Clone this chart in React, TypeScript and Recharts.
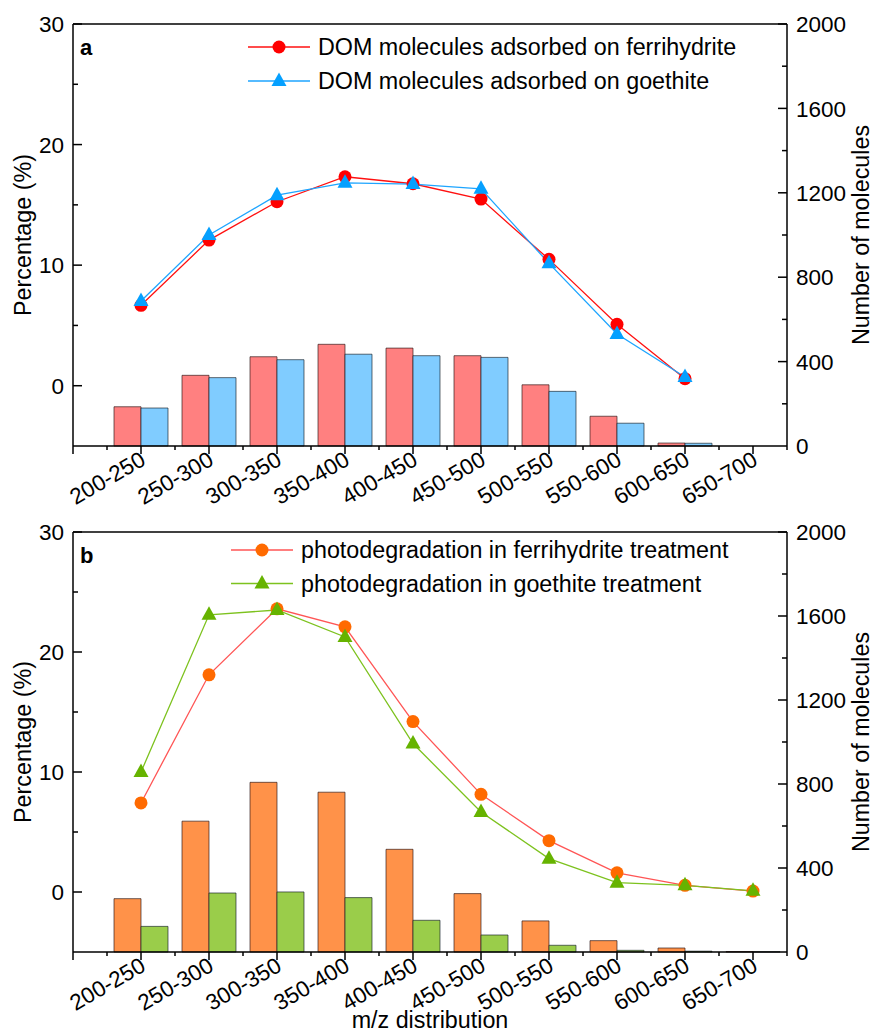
import React from "react";
import {
  ComposedChart,
  Bar,
  Line,
  XAxis,
  YAxis,
  ReferenceLine,
  Customized,
} from "recharts";

const FONT = "Arial, 'Liberation Sans', Helvetica, sans-serif";
const TICK_FS = 22.5;
const TEXT_FS = 23.3;

// m/z bins, plotted at positions 1..10 on a numeric axis (0 .. 10.5)
const categories = [
  "200-250",
  "250-300",
  "300-350",
  "350-400",
  "400-450",
  "450-500",
  "500-550",
  "550-600",
  "600-650",
  "650-700",
];
const categoryPositions = [1, 2, 3, 4, 5, 6, 7, 8, 9, 10];

// panel a: adsorbed DOM
const adsFerriPct = [6.67, 12.08, 15.26, 17.33, 16.75, 15.48, 10.48, 5.09, 0.58, null];
const adsGoethPct = [7.02, 12.5, 15.8, 16.83, 16.72, 16.33, 10.15, 4.29, 0.72, null];
const adsFerriCount = [186, 335, 423, 482, 464, 428, 290, 141, 14, 0];
const adsGoethCount = [180, 324, 409, 435, 428, 420, 259, 108, 13, 0];

// panel b: photodegradation
const photoFerriPct = [7.42, 18.1, 23.6, 22.1, 14.2, 8.14, 4.28, 1.6, 0.56, 0.08];
const photoGoethPct = [10.0, 23.1, 23.5, 21.25, 12.37, 6.67, 2.78, 0.78, 0.56, 0.1];
const photoFerriCount = [254, 623, 808, 761, 489, 278, 148, 54, 19, 2];
const photoGoethCount = [122, 281, 286, 259, 151, 81, 32, 8, 4, 1];

const xTicks = [0, 0.5, 1, 1.5, 2, 2.5, 3, 3.5, 4, 4.5, 5, 5.5, 6, 6.5, 7, 7.5, 8, 8.5, 9, 9.5, 10, 10.5];
const pctTicks = [-5, 0, 5, 10, 15, 20, 25, 30];
const pctMajor = [0, 10, 20, 30];
const countTicks = [0, 200, 400, 600, 800, 1000, 1200, 1400, 1600, 1800, 2000];
const countMajor = [0, 400, 800, 1200, 1600, 2000];

type Row = { x: number; p1: number | null; p2: number | null; n1: number; n2: number };

function buildRows(p1: (number | null)[], p2: (number | null)[], n1: number[], n2: number[]): Row[] {
  return categoryPositions.map((x, i) => ({ x, p1: p1[i], p2: p2[i], n1: n1[i], n2: n2[i] }));
}

const AX = "#000";

function XTick(props: any) {
  const { x, y, payload } = props;
  const v = payload.value;
  const major = Number.isInteger(v);
  const idx = categoryPositions.indexOf(v);
  const tx = x + 6;
  const ty = y + 18;
  return (
    <g>
      <line x1={x} x2={x} y1={y} y2={y + (major ? 8 : 4)} stroke={AX} strokeWidth={1.5} />
      {idx >= 0 && (
        <text
          x={tx}
          y={ty}
          textAnchor="end"
          transform={`rotate(-30 ${tx} ${ty})`}
          fontSize={TICK_FS}
          fontFamily={FONT}
          fill="#000"
        >
          {categories[idx]}
        </text>
      )}
    </g>
  );
}

function LeftTick(props: any) {
  const { x, y, payload } = props;
  const v = payload.value;
  if (v === -5) return <g />;
  const major = pctMajor.includes(v);
  return (
    <g>
      <line x1={x} x2={x + (major ? 9 : 5)} y1={y} y2={y} stroke={AX} strokeWidth={1.5} />
      {major && (
        <text x={x - 9} y={y} dy="0.36em" textAnchor="end" fontSize={TICK_FS} fontFamily={FONT} fill="#000">
          {v}
        </text>
      )}
    </g>
  );
}

function RightTick(props: any) {
  const { x, y, payload } = props;
  const v = payload.value;
  const major = countMajor.includes(v);
  return (
    <g>
      {v !== 0 && (
        <line x1={x} x2={x - (major ? 9 : 5)} y1={y} y2={y} stroke={AX} strokeWidth={1.5} />
      )}
      {major && (
        <text x={x + 9} y={y} dy="0.36em" textAnchor="start" fontSize={TICK_FS} fontFamily={FONT} fill="#000">
          {v}
        </text>
      )}
    </g>
  );
}

function circleDot(color: string) {
  return (props: any) => {
    const { cx, cy, index } = props;
    if (cx == null || cy == null || isNaN(cy)) return <g key={index} />;
    return <circle key={index} cx={cx} cy={cy} r={6.5} fill={color} />;
  };
}

function triangleDot(color: string) {
  return (props: any) => {
    const { cx, cy, index } = props;
    if (cx == null || cy == null || isNaN(cy)) return <g key={index} />;
    return (
      <path
        key={index}
        d={`M${cx},${cy - 8.5}L${cx + 7.5},${cy + 5}L${cx - 7.5},${cy + 5}Z`}
        fill={color}
      />
    );
  };
}

type SeriesStyle = {
  name: string;
  line: string;
  marker: string;
  bar: string;
  shape: "circle" | "triangle";
};

function LegendBox({ items, x, y, gap }: { items: SeriesStyle[]; x: number; y: number; gap: number }) {
  return (
    <g>
      {items.map((it, i) => {
        const cy = y + i * gap;
        const mx = x + 31;
        return (
          <g key={it.name}>
            <line x1={x} x2={x + 62} y1={cy} y2={cy} stroke={it.line} strokeWidth={1.3} />
            {it.shape === "circle" ? (
              <circle cx={mx} cy={cy} r={6.5} fill={it.marker} />
            ) : (
              <path d={`M${mx},${cy - 8.5}L${mx + 7.5},${cy + 5}L${mx - 7.5},${cy + 5}Z`} fill={it.marker} />
            )}
            <text x={x + 70} y={cy} dy="0.36em" fontSize={TEXT_FS} fontFamily={FONT} fill="#000">
              {it.name}
            </text>
          </g>
        );
      })}
    </g>
  );
}

function Titles({ letter, plotMid, xTitle }: { letter: string; plotMid: number; xTitle?: number }) {
  return (
    <g fontFamily={FONT} fill="#000">
      <text x={80} y={55} fontSize={22} fontWeight="bold">
        {letter}
      </text>
      <text
        x={23}
        y={plotMid}
        fontSize={TEXT_FS}
        textAnchor="middle"
        dy="0.36em"
        transform={`rotate(-90 23 ${plotMid})`}
      >
        Percentage (%)
      </text>
      <text
        x={861}
        y={plotMid}
        fontSize={TEXT_FS}
        textAnchor="middle"
        dy="0.36em"
        transform={`rotate(-90 861 ${plotMid})`}
      >
        Number of molecules
      </text>
      {xTitle != null && (
        <text x={430} y={xTitle} fontSize={TEXT_FS} textAnchor="middle">
          m/z distribution
        </text>
      )}
    </g>
  );
}

type PanelProps = {
  rows: Row[];
  s1: SeriesStyle;
  s2: SeriesStyle;
  letter: string;
  top: number;
  height: number;
  xAxisHeight: number;
  legendX: number;
  legendY: number;
  legendGap: number;
  xTitle?: number;
};

function Panel({ rows, s1, s2, letter, top, height, xAxisHeight, legendX, legendY, legendGap, xTitle }: PanelProps) {
  const mTop = 24;
  const plotMid = mTop + (height - mTop - xAxisHeight) / 2;
  return (
    <div style={{ position: "absolute", left: 0, top }}>
      <ComposedChart
        width={879}
        height={height}
        data={rows}
        margin={{ top: mTop, right: 0, bottom: 0, left: 0 }}
        barGap={0}
      >
        <XAxis
          dataKey="x"
          type="number"
          domain={[0, 10.5]}
          ticks={xTicks}
          interval={0}
          height={xAxisHeight}
          tickSize={0}
          tickMargin={0}
          tickLine={false}
          tick={<XTick />}
          axisLine={{ stroke: AX, strokeWidth: 1.5 }}
        />
        <YAxis
          yAxisId="pct"
          orientation="left"
          type="number"
          domain={[-5, 30]}
          ticks={pctTicks}
          interval={0}
          width={73}
          tickSize={0}
          tickMargin={0}
          tickLine={false}
          tick={<LeftTick />}
          axisLine={{ stroke: AX, strokeWidth: 1.5 }}
        />
        <YAxis
          yAxisId="count"
          orientation="right"
          type="number"
          domain={[0, 2000]}
          ticks={countTicks}
          interval={0}
          width={92}
          tickSize={0}
          tickMargin={0}
          tickLine={false}
          tick={<RightTick />}
          axisLine={{ stroke: AX, strokeWidth: 1.5 }}
        />
        <ReferenceLine yAxisId="pct" y={30} stroke={AX} strokeWidth={1.5} />
        <Bar
          yAxisId="count"
          dataKey="n1"
          barSize={27}
          fill={s1.bar}
          stroke="rgba(40,20,20,0.65)"
          strokeWidth={1}
          isAnimationActive={false}
        />
        <Bar
          yAxisId="count"
          dataKey="n2"
          barSize={27}
          fill={s2.bar}
          stroke="rgba(20,30,40,0.65)"
          strokeWidth={1}
          isAnimationActive={false}
        />
        <Line
          yAxisId="pct"
          dataKey="p1"
          stroke={s1.line}
          strokeWidth={1.3}
          dot={circleDot(s1.marker)}
          activeDot={false}
          isAnimationActive={false}
        />
        <Line
          yAxisId="pct"
          dataKey="p2"
          stroke={s2.line}
          strokeWidth={1.3}
          dot={triangleDot(s2.marker)}
          activeDot={false}
          isAnimationActive={false}
        />
        <Customized component={<LegendBox items={[s1, s2]} x={legendX} y={legendY} gap={legendGap} />} />
        <Customized component={<Titles letter={letter} plotMid={plotMid} xTitle={xTitle} />} />
      </ComposedChart>
    </div>
  );
}

const adsFerri: SeriesStyle = {
  name: "DOM molecules adsorbed on ferrihydrite",
  line: "#FF1010",
  marker: "#FF0000",
  bar: "#FF8080",
  shape: "circle",
};
const adsGoeth: SeriesStyle = {
  name: "DOM molecules adsorbed on goethite",
  line: "#1EA5FF",
  marker: "#05A0FF",
  bar: "#80CCFF",
  shape: "triangle",
};
const photoFerri: SeriesStyle = {
  name: "photodegradation in ferrihydrite treatment",
  line: "#FF5555",
  marker: "#FF6A00",
  bar: "#FF9249",
  shape: "circle",
};
const photoGoeth: SeriesStyle = {
  name: "photodegradation in goethite treatment",
  line: "#7DC21E",
  marker: "#66B300",
  bar: "#9ACD4A",
  shape: "triangle",
};

export default function App() {
  return (
    <div style={{ position: "absolute", left: 0, top: 0, width: 879, height: 1035, background: "#fff", overflow: "hidden" }}>
      <Panel
        rows={buildRows(adsFerriPct, adsGoethPct, adsFerriCount, adsGoethCount)}
        s1={adsFerri}
        s2={adsGoeth}
        letter="a"
        top={0}
        height={524}
        xAxisHeight={78}
        legendX={248}
        legendY={47}
        legendGap={34}
      />
      <Panel
        rows={buildRows(photoFerriPct, photoGoethPct, photoFerriCount, photoGoethCount)}
        s1={photoFerri}
        s2={photoGoeth}
        letter="b"
        top={508}
        height={527}
        xAxisHeight={83}
        legendX={231}
        legendY={42}
        legendGap={33.5}
        xTitle={520}
      />
    </div>
  );
}
